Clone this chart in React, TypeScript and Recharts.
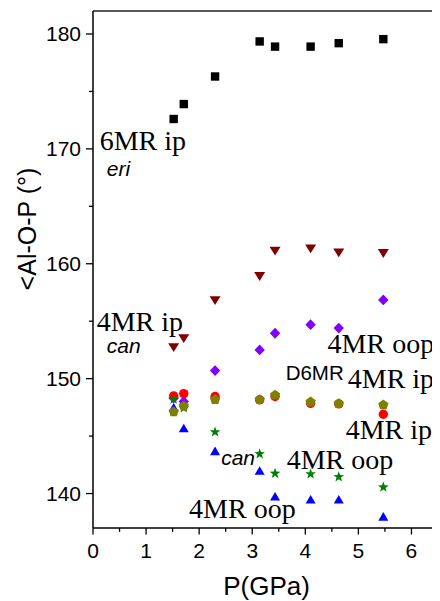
import React from 'react';
import { ScatterChart, Scatter, XAxis, YAxis, ReferenceLine, Label } from 'recharts';

// Pressure (GPa) shared by all series
const pressures = [1.52, 1.71, 2.3, 3.14, 3.43, 4.1, 4.63, 5.47];

// <Al-O-P (deg) per ring type
const eri6MRip = [172.6, 173.9, 176.3, 179.35, 178.9, 178.9, 179.2, 179.55];
const can4MRip = [152.7, 153.5, 156.8, 158.9, 161.1, 161.3, 160.95, 160.9];
const d6mr4MRoop = [148.3, 148.0, 150.7, 152.5, 153.95, 154.7, 154.4, 156.85];
const d6mr4MRipA = [148.5, 148.7, 148.45, 148.15, 148.45, 147.85, 147.8, 146.9];
const d6mr4MRipB = [147.15, 147.65, 148.2, 148.2, 148.6, 148.0, 147.85, 147.75];
const can4MRoop = [148.2, 147.45, 145.35, 143.45, 141.75, 141.7, 141.45, 140.55];
const d6mr4MRoopB = [147.5, 145.7, 143.7, 142.0, 139.75, 139.5, 139.5, 138.0];

const xTicks = [0, 0.5, 1, 1.5, 2, 2.5, 3, 3.5, 4, 4.5, 5, 5.5, 6, 6.5];
const yTicks = [140, 145, 150, 155, 160, 165, 170, 175, 180];

// annotation texts anchored at data coordinates (left, baseline)
const annotations = [
  { x: 0.126, y: 169.93, text: '6MR ip', kind: 'serif' },
  { x: 0.26, y: 167.65, text: 'eri', kind: 'italic' },
  { x: 0.07, y: 154.14, text: '4MR ip', kind: 'serif' },
  { x: 0.26, y: 152.21, text: 'can', kind: 'italic' },
  { x: 4.42, y: 152.21, text: '4MR oop', kind: 'serif' },
  { x: 3.63, y: 149.86, text: 'D6MR', kind: 'sans' },
  { x: 4.8, y: 149.16, text: '4MR ip', kind: 'serif' },
  { x: 4.76, y: 144.71, text: '4MR ip', kind: 'serif' },
  { x: 3.65, y: 142.1, text: '4MR oop', kind: 'serif' },
  { x: 2.415, y: 142.45, text: 'can', kind: 'italic' },
  { x: 1.81, y: 137.83, text: '4MR oop', kind: 'serif' },
];

const toPoints = (vals: number[]) => vals.map((y, i) => ({ x: pressures[i], y }));

const SANS = '"Liberation Sans", Arial, sans-serif';
const SERIF = '"Liberation Serif", "Times New Roman", serif';

const polygon = (cx: number, cy: number, n: number, r: number, rot: number) => {
  const pts: string[] = [];
  for (let i = 0; i < n; i++) {
    const a = rot + (i * 2 * Math.PI) / n;
    pts.push(`${cx + r * Math.cos(a)},${cy + r * Math.sin(a)}`);
  }
  return pts.join(' ');
};

const star = (cx: number, cy: number, ro: number, ri: number) => {
  const pts: string[] = [];
  for (let i = 0; i < 10; i++) {
    const r = i % 2 === 0 ? ro : ri;
    const a = -Math.PI / 2 + (i * Math.PI) / 5;
    pts.push(`${cx + r * Math.cos(a)},${cy + r * Math.sin(a)}`);
  }
  return pts.join(' ');
};

const makeShape = (kind: string, color: string) => (p: any) => {
  const { cx, cy } = p;
  if (cx == null || cy == null) return <g />;
  switch (kind) {
    case 'square':
      return <rect x={cx - 4.2} y={cy - 4.2} width={8.4} height={8.4} fill={color} />;
    case 'tdown':
      return <polygon points={`${cx - 5.5},${cy - 4.3} ${cx + 5.5},${cy - 4.3} ${cx},${cy + 4.5}`} fill={color} />;
    case 'tup':
      return <polygon points={`${cx - 5},${cy + 4.2} ${cx + 5},${cy + 4.2} ${cx},${cy - 4.4}`} fill={color} />;
    case 'diamond':
      return <polygon points={`${cx},${cy - 5.4} ${cx + 5.2},${cy} ${cx},${cy + 5.4} ${cx - 5.2},${cy}`} fill={color} />;
    case 'circle':
      return <circle cx={cx} cy={cy} r={4.7} fill={color} />;
    case 'star':
      return <polygon points={star(cx, cy, 5.6, 2.3)} fill={color} />;
    case 'pentagon':
      return <polygon points={polygon(cx, cy + 0.4, 5, 5.4, -Math.PI / 2)} fill={color} />;
    default:
      return <g />;
  }
};

const annotationShape = (p: any) => {
  const { cx, cy, payload } = p;
  if (cx == null || cy == null) return <g />;
  const k = payload.kind;
  if (k === 'serif')
    return (
      <text x={cx} y={cy} fontFamily={SERIF} fontSize={28} fill="#000">
        {payload.text}
      </text>
    );
  if (k === 'italic')
    return (
      <text x={cx} y={cy} fontFamily={SANS} fontStyle="italic" fontSize={21} fill="#000">
        {payload.text}
      </text>
    );
  return (
    <text x={cx} y={cy} fontFamily={SANS} fontSize={20.5} fill="#000">
      {payload.text}
    </text>
  );
};

const XTick = (props: any) => {
  const { x, y, payload } = props;
  const v = payload.value;
  const major = Math.abs(v - Math.round(v)) < 1e-6;
  return (
    <g>
      <line x1={x} x2={x} y1={y} y2={y + (major ? 6.5 : 3.8)} stroke="#000" strokeWidth={1.3} />
      {major && (
        <text x={x} y={y + 29.5} textAnchor="middle" fontFamily={SANS} fontSize={21} fill="#000">
          {v}
        </text>
      )}
    </g>
  );
};

const YTick = (props: any) => {
  const { x, y, payload } = props;
  const v = payload.value;
  const major = v % 10 === 0;
  return (
    <g>
      <line x1={x} x2={x - (major ? 7 : 4)} y1={y} y2={y} stroke="#000" strokeWidth={1.3} />
      {major && (
        <text x={x - 12} y={y + 7.5} textAnchor="end" fontFamily={SANS} fontSize={21} fill="#000">
          {v}
        </text>
      )}
    </g>
  );
};

const series = [
  { data: eri6MRip, kind: 'square', color: '#000000' },
  { data: can4MRip, kind: 'tdown', color: '#800000' },
  { data: d6mr4MRoop, kind: 'diamond', color: '#8000FF' },
  { data: d6mr4MRipA, kind: 'circle', color: '#FF0000' },
  { data: d6mr4MRoopB, kind: 'tup', color: '#0000FF' },
  { data: can4MRoop, kind: 'star', color: '#008000' },
  { data: d6mr4MRipB, kind: 'pentagon', color: '#808000' },
];

export default function App() {
  return (
    <div style={{ width: 432, height: 593 }}>
      <ScatterChart width={432} height={593} margin={{ top: 3, right: 2, bottom: 0, left: 0 }}>
        <XAxis
          type="number"
          dataKey="x"
          domain={[0, 6.5]}
          ticks={xTicks}
          interval={0}
          height={73}
          tickSize={0}
          tickMargin={0}
          tickLine={false}
          tick={<XTick />}
          axisLine={{ stroke: '#000', strokeWidth: 1.5 }}
          allowDataOverflow
        >
          <Label
            content={(lp: any) => {
              const vb = lp.viewBox || { x: 85, y: 520, width: 345, height: 73 };
              return (
                <text x={vb.x + 173.5} y={vb.y + 67} textAnchor="middle" fontFamily={SANS} fontSize={26} fill="#000">
                  P(GPa)
                </text>
              );
            }}
          />
        </XAxis>
        <YAxis
          type="number"
          dataKey="y"
          domain={[137, 182]}
          ticks={yTicks}
          interval={0}
          width={85}
          tickSize={0}
          tickMargin={0}
          tickLine={false}
          tick={<YTick />}
          axisLine={{ stroke: '#000', strokeWidth: 1.5 }}
          allowDataOverflow
        >
          <Label
            content={(lp: any) => {
              const vb = lp.viewBox || { x: 0, y: 3, width: 85, height: 517 };
              const tx = vb.x + 28;
              const ty = vb.y + 218;
              return (
                <text
                  x={tx}
                  y={ty}
                  transform={`rotate(-90 ${tx} ${ty})`}
                  textAnchor="middle"
                  fontFamily={SANS}
                  fontSize={25}
                  fill="#000"
                >
                  {'<Al-O-P (°)'}
                </text>
              );
            }}
          />
        </YAxis>
        <ReferenceLine y={182} stroke="#222" strokeWidth={1.5} />
        <ReferenceLine x={6.5} stroke="#222" strokeWidth={1.5} />
        <Scatter data={annotations} shape={annotationShape} isAnimationActive={false} />
        {series.map((s, i) => (
          <Scatter
            key={i}
            data={toPoints(s.data)}
            shape={makeShape(s.kind, s.color)}
            isAnimationActive={false}
          />
        ))}
      </ScatterChart>
    </div>
  );
}
